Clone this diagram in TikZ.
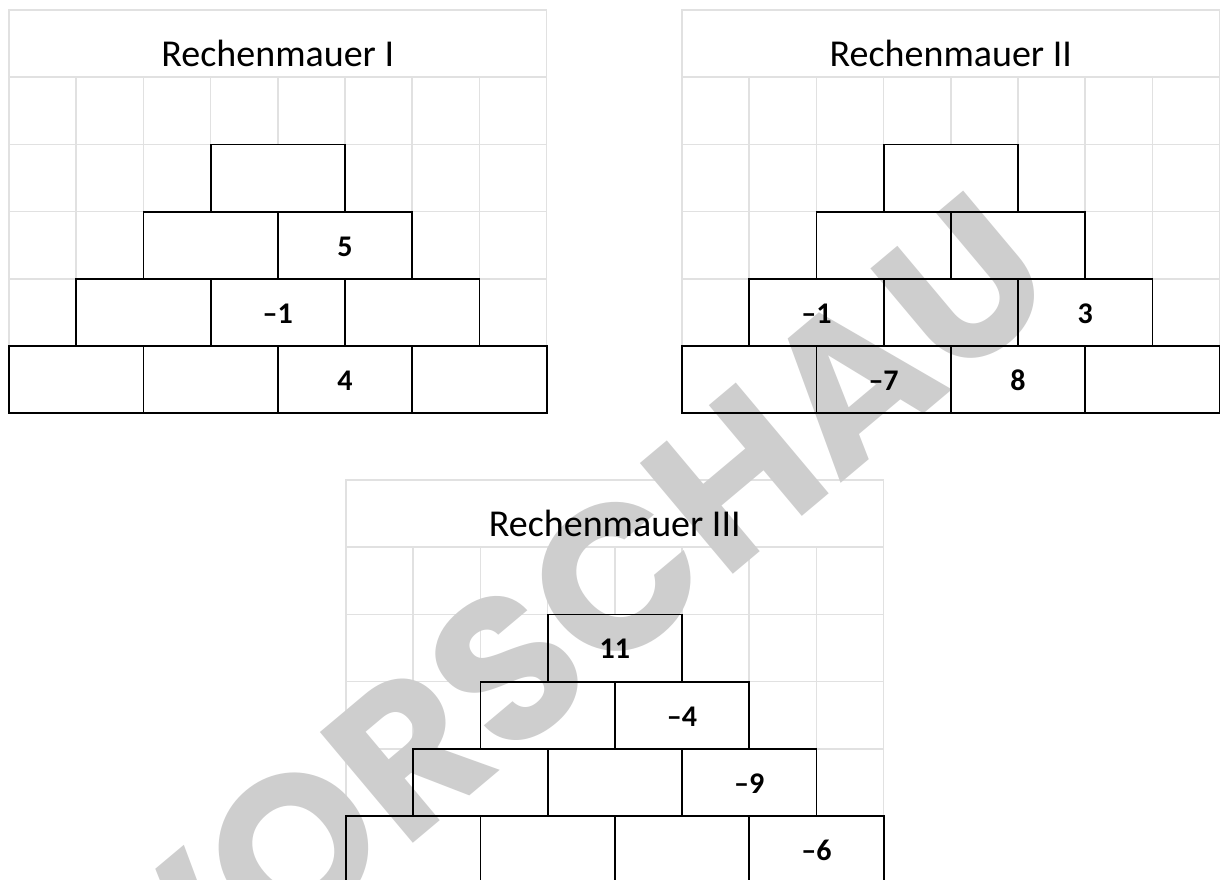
\documentclass[tikz,border=0pt]{standalone}
\usepackage{fontspec}
\setmainfont{Carlito}
\newfontfamily\wmfont{Poppins}
\usetikzlibrary{calc}

% stamp lettering and the advance of its first two letters
\newcommand\stampfont{\wmfont\bfseries\fontsize{206}{206}\selectfont}
\newlength\stamplead
\settowidth\stamplead{\stampfont VO}

\tikzset{
  gridline/.style={draw={rgb,255:red,225;green,225;blue,225}, line width=1.6pt},
  brickfill/.style={rectangle, fill=white, inner sep=0pt, outer sep=0pt,
    minimum width=134.4pt, minimum height=67.2pt, anchor=north west},
  brickline/.style={draw=black, line width=1.8pt},
  numlabel/.style={font=\fontsize{30}{32}\selectfont\bfseries, anchor=base, inner sep=0pt},
  walltitle/.style={font=\fontsize{38}{42}\selectfont, anchor=base, inner sep=0pt},
  watermark/.style={font=\stampfont, text={rgb,255:red,206;green,206;blue,206},
    rotate=40, inner sep=0pt, outer sep=0pt},
}

% light squared paper with a title strip: #1 x0, #2 y0
\newcommand\wallgrid[2]{%
  \begin{scope}[shift={(#1,#2)}]
    \draw[gridline] (0,0) rectangle (537.6,403.2);
    \foreach \k in {1,...,5} \draw[gridline] (0,\k*67.2) -- (537.6,\k*67.2);
    \foreach \k in {1,...,7} \draw[gridline] (\k*67.2,67.2) -- (\k*67.2,403.2);
  \end{scope}}

\newcommand\brickplan{A1/3/2, B1/2/3, B2/4/3, C1/1/4, C2/3/4, C3/5/4, D1/0/5, D2/2/5, D3/4/5, D4/6/5}

% white bricks of a wall: #1 prefix, #2 x0, #3 y0
\newcommand\wallfill[3]{%
  \foreach \nm/\cx/\ry in \brickplan
    \node[brickfill] (#1\nm) at ({#2+\cx*67.2},{#3+\ry*67.2}) {};}

% outlines of the bricks of a wall: #1 prefix
\newcommand\wallline[1]{%
  \foreach \nm/\cx/\ry in \brickplan
    \draw[brickline] (#1\nm.north west) rectangle (#1\nm.south east);}

\begin{document}
\begin{tikzpicture}[x=1pt,y=-1pt]
  \useasboundingbox (0,0) rectangle (1220,879);
  \clip (0,0) rectangle (1220,879);

  % squared paper
  \wallgrid{9}{10}
  \wallgrid{682}{10}
  \wallgrid{346}{480}

  % brick faces
  \wallfill{I}{9}{10}
  \wallfill{II}{682}{10}
  \wallfill{III}{346}{480}

  % preview stamp, placed by the foot of its R
  \coordinate (rfoot) at (403,851);
  \node[watermark, anchor=base west, xshift=-\stamplead] (stamp) at (rfoot) {VORSCHAU};

  % brick outlines
  \wallline{I}
  \wallline{II}
  \wallline{III}

  % titles
  \node[walltitle] (tI)   at (277.8,66)   {Rechenmauer I};
  \node[walltitle] (tII)  at (950.8,66)   {Rechenmauer II};
  \node[walltitle] (tIII) at (614.8,536)  {Rechenmauer III};

  % given numbers
  \node[numlabel] (nI5)    at ($(IB2.north)+(0,44.5)$)  {5};
  \node[numlabel] (nIm1)   at ($(IC2.north)+(0,44.5)$)  {–1};
  \node[numlabel] (nI4)    at ($(ID3.north)+(0,44.5)$)  {4};

  \node[numlabel] (nIIm1)  at ($(IIC1.north)+(0,44.5)$) {–1};
  \node[numlabel] (nII3)   at ($(IIC3.north)+(0,44.5)$) {3};
  \node[numlabel] (nIIm7)  at ($(IID2.north)+(0,44.5)$) {–7};
  \node[numlabel] (nII8)   at ($(IID3.north)+(0,44.5)$) {8};

  \node[numlabel] (nIII11) at ($(IIIA1.north)+(0,44.5)$) {11};
  \node[numlabel] (nIIIm4) at ($(IIIB2.north)+(0,44.5)$) {–4};
  \node[numlabel] (nIIIm9) at ($(IIIC3.north)+(0,44.5)$) {–9};
  \node[numlabel] (nIIIm6) at ($(IIID4.north)+(0,44.5)$) {–6};
\end{tikzpicture}
\end{document}
